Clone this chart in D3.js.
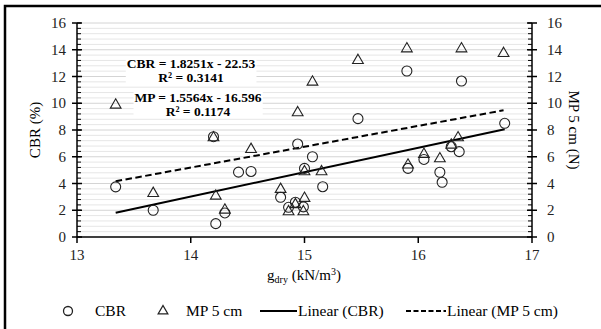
<!DOCTYPE html>
<html>
<head>
<meta charset="utf-8">
<script src="https://cdn.jsdelivr.net/npm/d3@7"></script>
<style>
  body { margin: 0; background: #fff; }
  svg { font-family: "Liberation Serif", "Times New Roman", serif; }
</style>
</head>
<body>
<div id="chart"></div>
<script>
// data
const cbrX = [13.34, 13.67, 14.20, 14.22, 14.30, 14.42, 14.53, 14.79, 14.86, 14.92, 14.94, 14.99, 15.00,
              15.07, 15.16, 15.47, 15.90, 15.91, 16.05, 16.19, 16.21, 16.29, 16.36, 16.38, 16.76];
const cbrY = [3.75, 2.0, 7.5, 1.0, 1.8, 4.85, 4.9, 2.97, 2.22, 2.6, 6.95, 2.25, 5.13,
              6.0, 3.76, 8.85, 12.41, 5.13, 5.8, 4.84, 4.09, 6.75, 6.38, 11.66, 8.5];
const mpX = [13.34, 13.67, 14.20, 14.22, 14.30, 14.42, 14.53, 14.79, 14.86, 14.92, 14.94, 14.99, 15.00,
             15.00, 15.07, 15.15, 15.47, 15.90, 15.91, 16.05, 16.19, 16.29, 16.35, 16.38, 16.75];
const mpY = [9.94, 3.34, 7.5, 3.14, 2.09, 12.49, 6.63, 3.64, 1.97, 2.5, 9.37, 1.97, 2.97,
             4.96, 11.66, 4.96, 13.28, 14.15, 5.46, 6.26, 5.93, 6.95, 7.5, 14.15, 13.8];
// trend line coefficients [slope, intercept]
const cbrFit = [1.8251, -22.53];
const mpFit = [1.5564, -16.596];
const xTicks = [13, 14, 15, 16, 17];
const yTicks = [0, 2, 4, 6, 8, 10, 12, 14, 16];
const legendLabels = ['CBR', 'MP 5 cm', 'Linear (CBR)', 'Linear (MP 5 cm)'];

const W = 601, H = 329;
const margin = { top: 23, right: 69, bottom: 92, left: 77 };
const width = W - margin.left - margin.right;
const height = H - margin.top - margin.bottom;

const svg = d3.select('#chart').append('svg')
    .attr('width', W)
    .attr('height', H);

// frame (cut off at right and bottom like the picture)
svg.append('rect')
    .attr('x', 5).attr('y', 6)
    .attr('width', W + 10).attr('height', H + 10)
    .attr('fill', 'none')
    .attr('stroke', '#000')
    .attr('stroke-width', 2.5);

const g = svg.append('g')
    .attr('transform', `translate(${margin.left},${margin.top})`);

const x = d3.scaleLinear().domain([13, 17]).range([0, width]);
const y = d3.scaleLinear().domain([0, 16]).range([height, 0]);
const y2 = d3.scaleLinear().domain([0, 16]).range([height, 0]);

// gridlines every 0.4
const minor = d3.range(0.4, 16.01, 0.4);
g.append('g').selectAll('line').data(minor).enter().append('line')
    .attr('x1', 0).attr('x2', width)
    .attr('y1', d => y(d)).attr('y2', d => y(d))
    .attr('stroke', d => Math.abs(d / 2 - Math.round(d / 2)) < 0.01 ? '#d4d4d4' : '#e6e6e6')
    .attr('stroke-width', 1);

// left axis
const left = g.append('g');
left.append('line').attr('x1', 0).attr('x2', 0).attr('y1', 0).attr('y2', height)
    .attr('stroke', '#000').attr('stroke-width', 1.5);
left.selectAll('.mn').data(minor).enter().append('line')
    .attr('x1', 0).attr('x2', 4)
    .attr('y1', d => y(d)).attr('y2', d => y(d))
    .attr('stroke', '#000');
left.selectAll('.mj').data(yTicks).enter().append('line')
    .attr('x1', -5).attr('x2', 5)
    .attr('y1', d => y(d)).attr('y2', d => y(d))
    .attr('stroke', '#000').attr('stroke-width', 1.5);
left.selectAll('text').data(yTicks).enter().append('text')
    .attr('x', -11).attr('y', d => y(d) + 5)
    .attr('text-anchor', 'end')
    .attr('font-size', 15)
    .attr('fill', '#222')
    .text(d => d);

// right axis
const right = g.append('g').attr('transform', `translate(${width},0)`);
right.append('line').attr('x1', 0).attr('x2', 0).attr('y1', 0).attr('y2', height)
    .attr('stroke', '#000').attr('stroke-width', 1.5);
right.selectAll('.mn').data(minor).enter().append('line')
    .attr('x1', -4).attr('x2', 0)
    .attr('y1', d => y2(d)).attr('y2', d => y2(d))
    .attr('stroke', '#000');
right.selectAll('.mj').data(yTicks).enter().append('line')
    .attr('x1', -5).attr('x2', 5)
    .attr('y1', d => y2(d)).attr('y2', d => y2(d))
    .attr('stroke', '#000').attr('stroke-width', 1.5);
right.selectAll('text').data(yTicks).enter().append('text')
    .attr('x', 15).attr('y', d => y2(d) + 5)
    .attr('text-anchor', 'start')
    .attr('font-size', 15)
    .attr('fill', '#222')
    .text(d => d);

// bottom axis
const bottom = g.append('g').attr('transform', `translate(0,${height})`);
bottom.append('line').attr('x1', 0).attr('x2', width)
    .attr('stroke', '#000').attr('stroke-width', 1.5);
bottom.selectAll('line.t').data(xTicks).enter().append('line')
    .attr('class', 't')
    .attr('x1', d => x(d)).attr('x2', d => x(d))
    .attr('y1', 0).attr('y2', 6)
    .attr('stroke', '#000').attr('stroke-width', 1.5);
bottom.selectAll('text').data(xTicks).enter().append('text')
    .attr('x', d => x(d)).attr('y', 23)
    .attr('text-anchor', 'middle')
    .attr('font-size', 15)
    .attr('fill', '#222')
    .text(d => d);

// axis titles
svg.append('text')
    .attr('transform', `translate(40,${margin.top + height / 2}) rotate(-90)`)
    .attr('text-anchor', 'middle')
    .attr('font-size', 15)
    .text('CBR (%)');
svg.append('text')
    .attr('transform', `translate(569,${margin.top + height / 2}) rotate(90)`)
    .attr('text-anchor', 'middle')
    .attr('font-size', 15)
    .text('MP 5 cm (N)');
const xt = svg.append('text')
    .attr('x', 304).attr('y', 280)
    .attr('text-anchor', 'middle')
    .attr('font-size', 15);
xt.append('tspan').text('g');
xt.append('tspan').attr('font-size', 10).attr('dy', 3).text('dry');
xt.append('tspan').attr('dy', -3).text(' (kN/m');
xt.append('tspan').attr('font-size', 10).attr('dy', -5).text('3');
xt.append('tspan').attr('dy', 5).text(')');

// trend lines from the min to max x of each series
function fitLine(xs, fit) {
    const ext = d3.extent(xs);
    return ext.map(v => [v, fit[0] * v + fit[1]]);
}
const line = d3.line().x(d => x(d[0])).y(d => y(d[1]));
g.append('path').datum(fitLine(mpX, mpFit))
    .attr('d', line).attr('fill', 'none')
    .attr('stroke', '#000').attr('stroke-width', 2)
    .attr('stroke-dasharray', '6.5,3.5');
g.append('path').datum(fitLine(cbrX, cbrFit))
    .attr('d', line).attr('fill', 'none')
    .attr('stroke', '#000').attr('stroke-width', 2);

// markers
const sym = d3.symbol().type(d3.symbolTriangle).size(50);
g.append('g').selectAll('path').data(mpX).enter().append('path')
    .attr('d', sym)
    .attr('transform', (d, i) => `translate(${x(d)},${y2(mpY[i]) + 1})`)
    .attr('fill', 'none').attr('stroke', '#222').attr('stroke-width', 1.1);
g.append('g').selectAll('circle').data(cbrX).enter().append('circle')
    .attr('cx', d => x(d)).attr('cy', (d, i) => y(cbrY[i]))
    .attr('r', 5)
    .attr('fill', 'none').attr('stroke', '#222').attr('stroke-width', 1.1);

// regression labels with white boxes
const eqs = [
    { lines: ['CBR = ' + cbrFit[0] + 'x - ' + Math.abs(cbrFit[1]), 'R² = 0.3141'], cx: 191, cy: 68 },
    { lines: ['MP = ' + mpFit[0] + 'x - ' + Math.abs(mpFit[1]), 'R² = 0.1174'], cx: 198, cy: 102 }
];
eqs.forEach(e => {
    const grp = svg.append('g');
    const txt = grp.append('text')
        .attr('text-anchor', 'middle')
        .attr('font-size', 13.5)
        .attr('font-weight', 'bold');
    e.lines.forEach((t, i) => {
        txt.append('tspan').attr('x', e.cx).attr('y', e.cy + i * 14).text(t);
    });
    const bb = txt.node().getBBox();
    grp.insert('rect', 'text')
        .attr('x', bb.x - 1).attr('y', bb.y + 1)
        .attr('width', bb.width + 2).attr('height', bb.height - 2)
        .attr('fill', '#fff');
});

// legend
const ly = 316;
const leg = svg.append('g').attr('font-size', 15.5);
leg.append('circle').attr('cx', 68).attr('cy', ly - 5).attr('r', 4.5)
    .attr('fill', 'none').attr('stroke', '#222').attr('stroke-width', 1.3);
leg.append('text').attr('x', 95).attr('y', ly).text(legendLabels[0]);
leg.append('path').attr('d', d3.symbol().type(d3.symbolTriangle).size(40))
    .attr('transform', `translate(163,${ly - 5})`)
    .attr('fill', 'none').attr('stroke', '#222').attr('stroke-width', 1.3);
leg.append('text').attr('x', 186).attr('y', ly).text(legendLabels[1]);
leg.append('line').attr('x1', 260).attr('x2', 297).attr('y1', ly - 5).attr('y2', ly - 5)
    .attr('stroke', '#000').attr('stroke-width', 2);
leg.append('text').attr('x', 298).attr('y', ly).text(legendLabels[2]);
leg.append('line').attr('x1', 406).attr('x2', 446).attr('y1', ly - 5).attr('y2', ly - 5)
    .attr('stroke', '#000').attr('stroke-width', 2).attr('stroke-dasharray', '5,2.5');
leg.append('text').attr('x', 447).attr('y', ly).text(legendLabels[3]);
</script>
</body>
</html>
